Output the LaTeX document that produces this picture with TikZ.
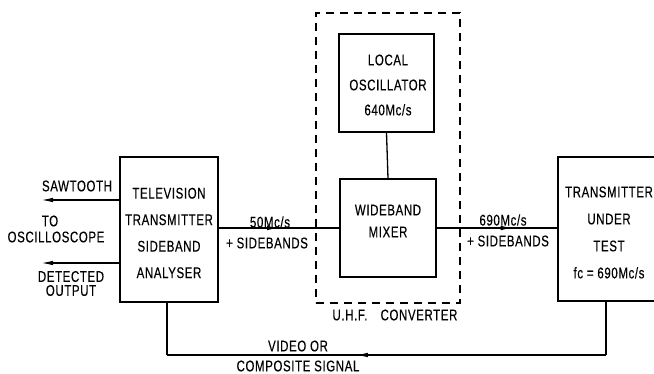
\documentclass[tikz,border=0pt]{standalone}
\usepackage{fontspec}
\setmainfont{Liberation Sans}[FakeStretch=0.74,FakeBold=0.3,LetterSpace=4]
\usetikzlibrary{arrows.meta,decorations.markings}
\newcommand\lbfont{\fontsize{15.5}{26.5}\selectfont}
\tikzset{
  box/.style={draw,line width=1.3pt,inner sep=0pt},
  txt/.style={align=center,font=\lbfont,inner sep=0pt},
  wire/.style={line width=1.3pt},
  tipend/.style={-{Latex[length=12pt,width=4.5pt]}},
  midarrow/.style={postaction={decorate},decoration={markings,
     mark=at position #1 with {\arrow{Latex[length=12pt,width=4.5pt]}}}},
  uhfbox/.style={draw,line width=1.2pt,dash pattern=on 8pt off 6pt,inner sep=0pt}
}
\begin{document}
\begin{tikzpicture}[x=1pt,y=-1pt]
\useasboundingbox (0,0) rectangle (654,374);
% UHF converter dashed box
\node[uhfbox,minimum width=144pt,minimum height=290pt] (uhf) at (388,158) {};
% boxes
\node[box,minimum width=98pt,minimum height=145pt] (tv) at (169,229.5) {};
\node[box,minimum width=95pt,minimum height=98pt] (lo) at (386.5,83) {};
\node[box,minimum width=96pt,minimum height=98pt] (mix) at (388,228) {};
\node[box,minimum width=102pt,minimum height=144pt] (tut) at (609,229) {};
% box texts
\node[txt] (tvt) at (169,233) {TELEVISION\\TRANSMITTER\\SIDEBAND\\ANALYSER};
\node[txt,font=\fontsize{15.5}{25}\selectfont] (lot) at (388,85) {LOCAL\\OSCILLATOR\\640Mc/s};
\node[txt,font=\fontsize{15.5}{22}\selectfont] (mixt) at (388,221) {WIDEBAND\\MIXER};
\node[txt,font=\fontsize{15.5}{27}\selectfont] (tutt) at (609,232.5) {TRANSMITTER\\UNDER\\TEST\\fc = 690Mc/s};
% left outputs
\coordinate (sawend) at (41,200);
\coordinate (detend) at (41,263);
\draw[wire,tipend] (tv.west |- sawend) -- (sawend);
\draw[wire,tipend] (tv.west |- detend) -- (detend);
\node[txt] (saw) at (77,186) {SAWTOOTH};
\node[txt] (to) at (50,221) {TO};
\node[txt] (osc) at (56,237) {OSCILLOSCOPE};
\node[txt,font=\fontsize{15.5}{14}\selectfont] (det) at (71,283.5) {DETECTED\\OUTPUT};
% main chain
\draw[wire,midarrow=0.5] (tv.east |- mix.west) -- (mix.west);
\draw[wire,midarrow=0.63] (mix.east) -- (tut.west |- mix.east);
\draw[wire] (lo.south) -- (mix.north);
\node[txt] (f50) at (270,222) {50Mc/s};
\node[txt] (sb1) at (267,243) {+ SIDEBANDS};
\node[txt] (f690) at (503,220) {690Mc/s};
\node[txt] (sb2) at (508,241) {+ SIDEBANDS};
% UHF label
\node[txt] (uhfl) at (350,315) {U.H.F.};
\node[txt] (conv) at (419,315) {CONVERTER};
% video feedback
\coordinate (bot) at (0,355);
\draw[wire] ([xshift=-3pt]tut.south) -- ([xshift=-3pt]tut.south |- bot);
\draw[wire,midarrow=0.57] ([xshift=-3pt]tut.south |- bot) -- ([xshift=-2pt]tv.south |- bot);
\draw[wire] ([xshift=-2pt]tv.south |- bot) -- ([xshift=-2pt]tv.south);
\node[txt] (vid) at (298,346) {VIDEO OR};
\node[txt] (comp) at (298,366) {COMPOSITE SIGNAL};
\end{tikzpicture}
\end{document}
